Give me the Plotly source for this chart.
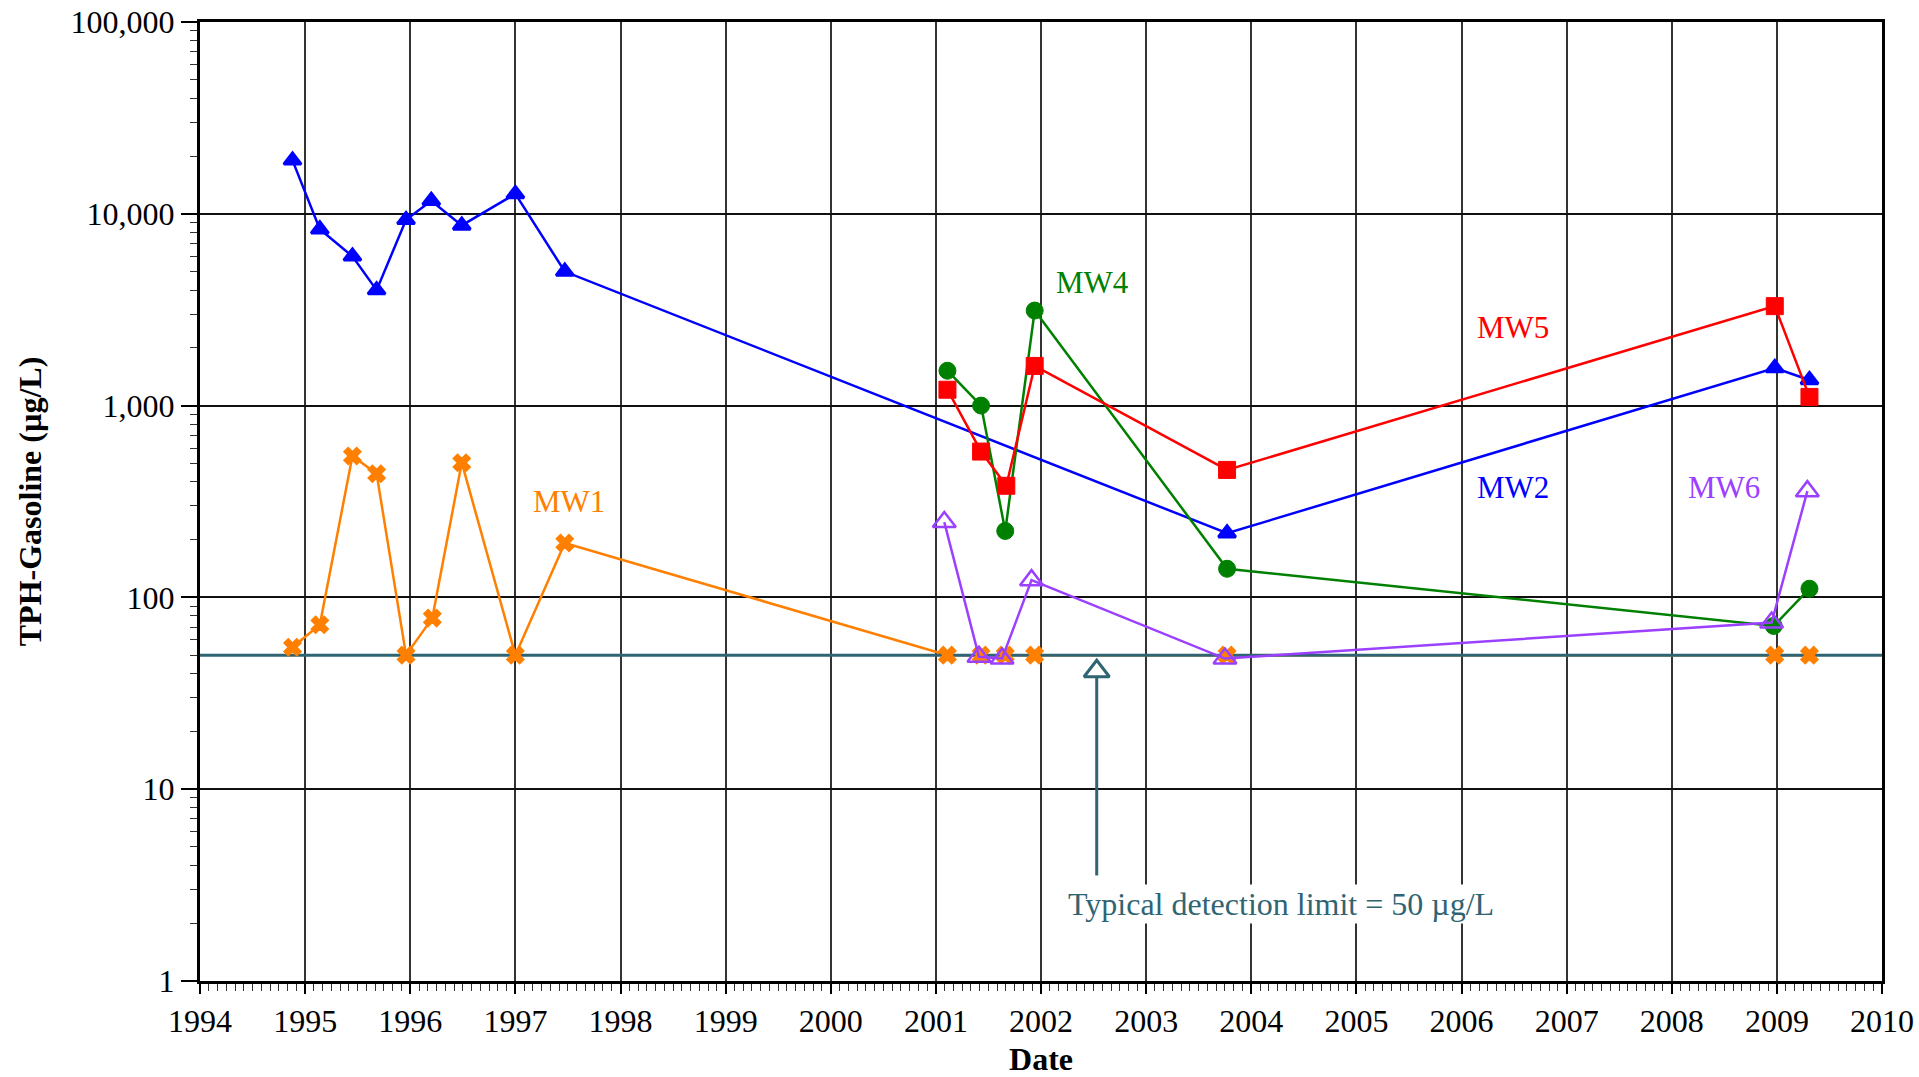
import plotly.graph_objects as go

# ---- data (decimal years, TPH-Gasoline in ug/L) ----
mw1_dates = [1994.88, 1995.14, 1995.45, 1995.68, 1995.96, 1996.21, 1996.49, 1997.00, 1997.47,
             2001.11, 2001.43, 2001.66, 2001.94, 2003.77, 2008.98, 2009.31]
mw1_vals = [55, 72, 546, 441, 50, 78, 504, 50, 192, 50, 50, 50, 50, 50, 50, 50]

mw2_dates = [1994.88, 1995.14, 1995.45, 1995.68, 1995.96, 1996.20, 1996.49, 1997.00, 1997.47,
             2003.77, 2008.98, 2009.31]
mw2_vals = [19000, 8300, 6000, 4000, 9300, 11700, 8700, 12700, 5000, 216, 1570, 1360]

mw4_dates = [2001.11, 2001.43, 2001.66, 2001.94, 2003.77, 2008.97, 2009.31]
mw4_vals = [1520, 1000, 222, 3130, 141, 71, 111]

mw5_dates = [2001.11, 2001.43, 2001.67, 2001.94, 2003.77, 2008.98, 2009.31]
mw5_vals = [1210, 576, 382, 1610, 462, 3300, 1110]

mw6_dates = [2001.08, 2001.41, 2001.63, 2001.91, 2003.75, 2008.95, 2009.29]
mw6_vals = [247, 49, 48, 123, 48, 74, 358]

detection_limit = 50
x_range = [1994, 2010]
year_ticks = list(range(1994, 2011))
y_ticks = [1, 10, 100, 1000, 10000, 100000]
y_tick_labels = ["1", "10", "100", "1,000", "10,000", "100,000"]

# annotation arrow (x, tail value, head base value, tip marker value)
arrow_x = 2002.53
arrow_tail = 3.55
arrow_head_base = 38.5
arrow_tip_marker = 41.2

FONT = "Liberation Serif, Times New Roman, serif"
ORANGE = "#FF8000"
BLUE = "#0000FF"
GREEN = "#008000"
RED = "#FF0000"
PURPLE = "#9B40FF"
TEAL = "#2F6473"

fig = go.Figure()

# MW1 connecting line (below the detection-limit line)
fig.add_trace(go.Scatter(x=mw1_dates, y=mw1_vals, mode="lines",
                         line=dict(color=ORANGE, width=2.5), showlegend=False, hoverinfo="skip"))

fig.add_trace(go.Scatter(x=x_range, y=[detection_limit, detection_limit], mode="lines",
                         line=dict(color=TEAL, width=3), showlegend=False, hoverinfo="skip"))

fig.add_trace(go.Scatter(x=mw1_dates, y=mw1_vals, mode="markers", name="MW1",
                         marker=dict(symbol="x", size=15, color=ORANGE,
                                     line=dict(width=1.5, color=ORANGE))))
fig.add_trace(go.Scatter(x=mw2_dates, y=mw2_vals, mode="lines+markers", name="MW2",
                         line=dict(color=BLUE, width=2.5),
                         marker=dict(symbol="triangle-up", size=15, color=BLUE,
                                     line=dict(width=3, color=BLUE))))
fig.add_trace(go.Scatter(x=mw4_dates, y=mw4_vals, mode="lines+markers", name="MW4",
                         line=dict(color=GREEN, width=2.5),
                         marker=dict(symbol="circle", size=17, color=GREEN,
                                     line=dict(width=1, color=GREEN))))
fig.add_trace(go.Scatter(x=mw5_dates, y=mw5_vals, mode="lines+markers", name="MW5",
                         line=dict(color=RED, width=2.5),
                         marker=dict(symbol="square", size=17, color=RED,
                                     line=dict(width=1, color=RED))))
fig.add_trace(go.Scatter(x=mw6_dates, y=mw6_vals, mode="lines+markers", name="MW6",
                         line=dict(color=PURPLE, width=2.5),
                         marker=dict(symbol="triangle-up-open", size=20, color=PURPLE,
                                     line=dict(width=2.5, color=PURPLE))))

# arrow
fig.add_trace(go.Scatter(x=[arrow_x, arrow_x], y=[arrow_tail, arrow_head_base], mode="lines",
                         line=dict(color=TEAL, width=3), showlegend=False, hoverinfo="skip"))
fig.add_trace(go.Scatter(x=[arrow_x], y=[arrow_tip_marker], mode="markers",
                         marker=dict(symbol="triangle-up-open", size=22, color=TEAL,
                                     line=dict(width=3, color=TEAL)),
                         showlegend=False, hoverinfo="skip"))

labels = [
    ("MW1", 1997.506, 2.5005, ORANGE),
    ("MW2", 2006.49, 2.575, BLUE),
    ("MW4", 2002.49, 3.643, GREEN),
    ("MW5", 2006.49, 3.408, RED),
    ("MW6", 2008.50, 2.575, PURPLE),
]
for txt, lx, ly, col in labels:
    fig.add_annotation(x=lx, y=ly, text=txt, showarrow=False,
                       font=dict(family=FONT, size=31, color=col),
                       xanchor="center", yanchor="middle")

fig.add_annotation(x=2004.287, y=0.40, text="Typical detection limit = 50 µg/L", showarrow=False,
                   font=dict(family=FONT, size=32, color=TEAL), bgcolor="white",
                   xanchor="center", yanchor="middle")

fig.update_layout(
    width=1919, height=1077,
    margin=dict(l=200, r=37, t=22, b=96),
    plot_bgcolor="white", paper_bgcolor="white",
    showlegend=False,
    font=dict(family=FONT, size=32, color="black"),
)

fig.update_xaxes(
    range=x_range, tickmode="array", tickvals=year_ticks, ticktext=[str(y) for y in year_ticks],
    showgrid=True, gridcolor="#333333", gridwidth=1.5,
    showline=True, linecolor="black", linewidth=3, mirror=True,
    ticks="outside", ticklen=10, tickwidth=1.5, tickcolor="black",
    tickfont=dict(family=FONT, size=32, color="black"),
    minor=dict(dtick=1/12, tick0=1994, ticks="outside", ticklen=7, tickwidth=1, tickcolor="#333333", showgrid=False),
    title=dict(text="<b>Date</b>", font=dict(family=FONT, size=32, color="black"), standoff=17),
    zeroline=False, automargin=False,
)
fig.update_yaxes(
    type="log", range=[0, 5], tickmode="array", tickvals=y_ticks, ticktext=y_tick_labels,
    showgrid=True, gridcolor="#111111", gridwidth=1.5,
    showline=True, linecolor="black", linewidth=3, mirror=True,
    ticks="outside", ticklen=16, tickwidth=1.5, tickcolor="black",
    tickfont=dict(family=FONT, size=32, color="black"),
    minor=dict(dtick="D1", ticks="outside", ticklen=7, tickwidth=1, tickcolor="#333333", showgrid=False),
    title=dict(text="<b>TPH-Gasoline (µg/L)</b>", font=dict(family=FONT, size=32, color="black"), standoff=20),
    zeroline=False, automargin=False,
)

fig.write_html("out.html", config={"displayModeBar": False},
               post_script="document.body.style.margin='0';document.body.style.overflow='hidden';")
